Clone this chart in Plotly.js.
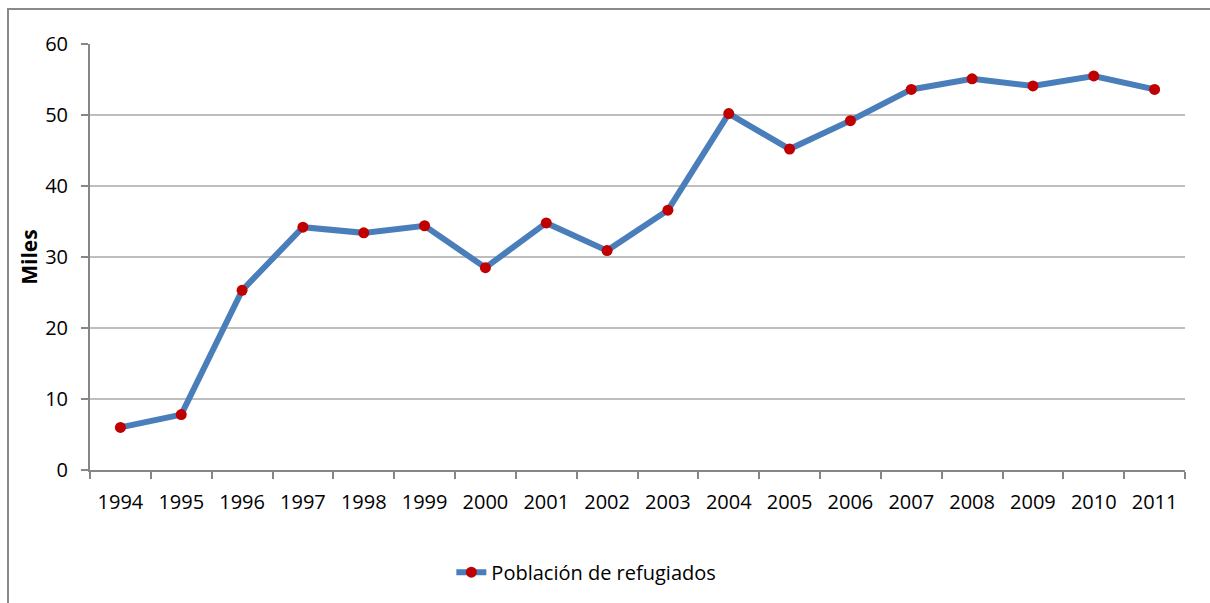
<!DOCTYPE html>
<html>
<head>
<meta charset="utf-8">
<script src="https://cdn.plot.ly/plotly-3.0.1.min.js"></script>
<style>
  html, body { margin: 0; padding: 0; background: #fff; overflow: hidden; }
  #chart { position: absolute; left: 0; top: 0; width: 1210px; height: 603px; }
  #frame { position: absolute; left: 7px; top: 8px; width: 1300px; height: 700px;
           border-left: 2px solid #8a8a8a; border-top: 2px solid #8a8a8a; pointer-events: none; }
</style>
</head>
<body>
<div id="chart"></div>
<div id="frame"></div>
<script>
const years = ["1994","1995","1996","1997","1998","1999","2000","2001","2002","2003",
               "2004","2005","2006","2007","2008","2009","2010","2011"];
const refugiados = [6.0, 7.8, 25.3, 34.2, 33.4, 34.4, 28.5, 34.8, 30.9, 36.6,
                    50.2, 45.2, 49.2, 53.6, 55.1, 54.1, 55.5, 53.6];
const seriesName = "Población de refugiados";
const yTitle = "Miles";

const font = "Open Sans, Noto Sans, sans-serif";

Plotly.newPlot("chart", [{
  x: years,
  y: refugiados,
  type: "scatter",
  mode: "lines+markers",
  name: seriesName,
  line: { color: "#4A7EBB", width: 6 },
  marker: { color: "#C00000", size: 11 }
}], {
  width: 1210,
  height: 603,
  paper_bgcolor: "#ffffff",
  plot_bgcolor: "#ffffff",
  margin: { l: 90, r: 25, t: 44, b: 132 },
  font: { family: font, size: 20, color: "#000" },
  showlegend: true,
  legend: {
    orientation: "h",
    x: 0.33, xanchor: "left",
    y: -0.237, yanchor: "middle",
    font: { family: font, size: 20, color: "#000" },
    bgcolor: "rgba(0,0,0,0)"
  },
  xaxis: {
    type: "category",
    range: [-0.5, 17.5],
    showline: true, linecolor: "#868686", linewidth: 2,
    ticks: "outside", tickson: "boundaries", ticklen: 7, tickcolor: "#868686", tickwidth: 2,
    ticklabelstandoff: 13,
    showgrid: false, zeroline: false,
    tickfont: { family: font, size: 20, color: "#000" }
  },
  yaxis: {
    range: [0, 60],
    dtick: 10,
    showline: true, linecolor: "#868686", linewidth: 2,
    ticks: "outside", ticklen: 7, tickcolor: "#868686", tickwidth: 2,
    ticklabelstandoff: 9,
    showgrid: true, gridcolor: "#BEBEBE", gridwidth: 1.5,
    zeroline: false,
    tickfont: { family: font, size: 20, color: "#000" },
    title: { text: "<b>" + yTitle + "</b>", font: { family: font, size: 21, color: "#000" }, standoff: 2 }
  }
}, { displayModeBar: false, staticPlot: true });
</script>
</body>
</html>
